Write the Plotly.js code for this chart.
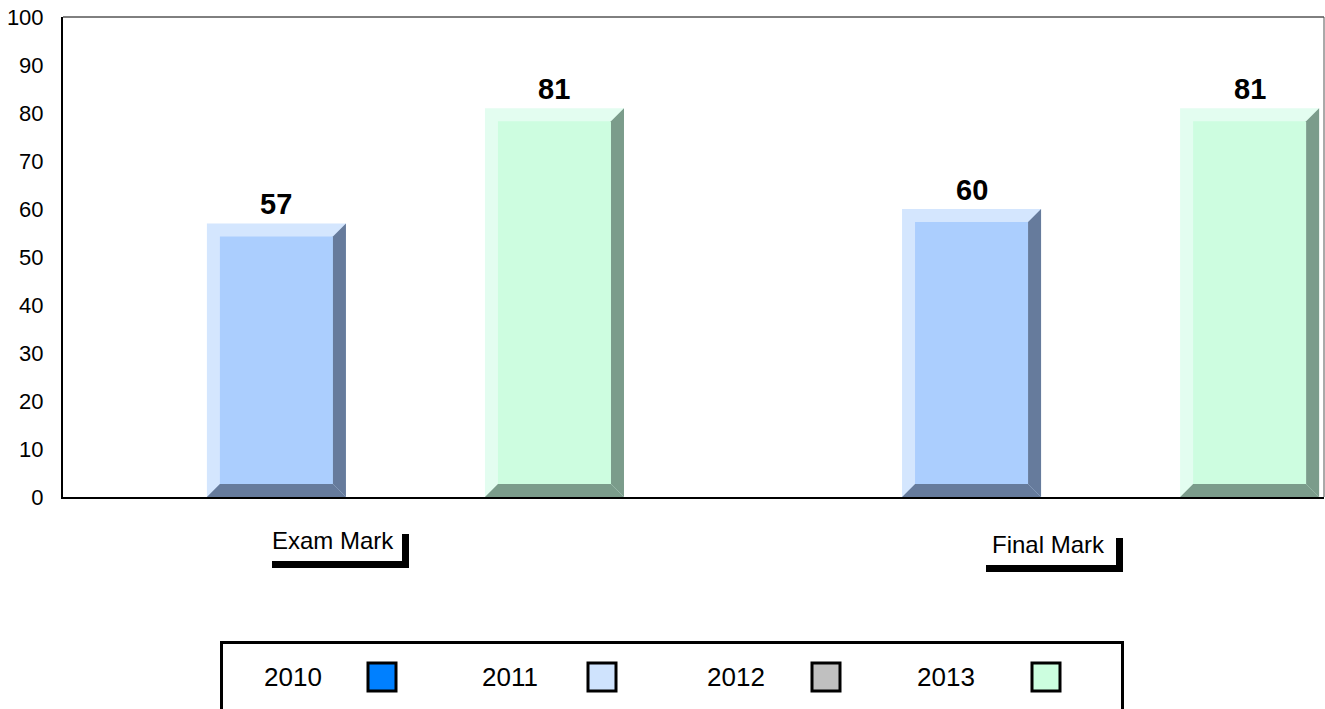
<!DOCTYPE html>
<html>
<head>
<meta charset="utf-8">
<script src="https://cdn.plot.ly/plotly-3.0.1.min.js"></script>
<style>html,body{margin:0;padding:0;background:#fff;}#chart{width:1325px;height:709px;}</style>
</head>
<body>
<div id="chart"></div>
<script>
// ---- data ----
const categories = ['Exam Mark', 'Final Mark'];
const seriesNames = ['2010', '2011', '2012', '2013'];
const values2010 = [null, null];
const values2011 = [57, 60];
const values2012 = [null, null];
const values2013 = [81, 81];
const yTickVals = [0, 10, 20, 30, 40, 50, 60, 70, 80, 90, 100];

// ---- styles ----
const seriesValues = [values2010, values2011, values2012, values2013];
const swatchColors = ['#0080ff', '#cfe3fd', '#c0c0c0', '#ccfedf'];
const outerColors  = ['#66b3ff', '#d4e6fe', '#dcdcdc', '#e3fdf0'];
const faceColors   = ['#0080ff', '#abcefe', '#c0c0c0', '#cdfde0'];
const sideColors   = ['#004d99', '#667b9c', '#737373', '#7b9c8b'];
const FONT = 'Liberation Sans, Arial, sans-serif';

const W = 1325, H = 709;
const M = {l: 63, r: 1, t: 17, b: 212};
const plotW = W - M.l - M.r, plotH = H - M.t - M.b;
const xRange = [-0.407, 1.407];
const yRange = [0, 100];
const bargap = 0.2;
const xs = categories.map((c, i) => i);

// helpers: pixel -> paper
const pxX = px => (px - M.l) / plotW;
const pxY = py => (H - M.b - py) / plotH;

const traces = seriesNames.map((name, i) => ({
  type: 'bar',
  name: name,
  x: xs,
  y: seriesValues[i],
  marker: {color: outerColors[i], line: {width: 0}},
  hoverinfo: 'none',
  showlegend: false
}));

const shapes = [];
const annotations = [];

// bevel geometry (in data units, derived from axis scale)
const pxPerX = plotW / (xRange[1] - xRange[0]);
const pxPerY = plotH / (yRange[1] - yRange[0]);
const bev = 13;
const bx = bev / pxPerX, by = bev / pxPerY;
const slot = (1 - bargap) / seriesNames.length;

seriesNames.forEach((name, i) => {
  seriesValues[i].forEach((v, c) => {
    if (v === null || v === undefined) return;
    const center = xs[c] + (i - (seriesNames.length - 1) / 2) * slot;
    const x0 = center - slot / 2, x1 = center + slot / 2;
    // face
    shapes.push({type: 'rect', xref: 'x', yref: 'y', x0: x0 + bx, x1: x1 - bx, y0: by, y1: v - by,
      fillcolor: faceColors[i], line: {width: 0}});
    // right side
    shapes.push({type: 'path', xref: 'x', yref: 'y',
      path: `M ${x1 - bx},${v - by} L ${x1},${v} L ${x1},0 L ${x1 - bx},${by} Z`,
      fillcolor: sideColors[i], line: {width: 0}});
    // bottom side
    shapes.push({type: 'path', xref: 'x', yref: 'y',
      path: `M ${x0},0 L ${x0 + bx},${by} L ${x1 - bx},${by} L ${x1},0 Z`,
      fillcolor: sideColors[i], line: {width: 0}});
    // value label
    annotations.push({xref: 'x', yref: 'y', x: center, y: v, yanchor: 'bottom', xanchor: 'center',
      yshift: 1, showarrow: false, text: '<b>' + v + '</b>',
      font: {family: FONT, size: 29, color: '#000'}});
  });
});

// frame lines (top, right)
shapes.push({type: 'line', xref: 'paper', yref: 'paper', x0: 0, x1: 1, y0: 1, y1: 1, line: {color: '#000', width: 1}});
shapes.push({type: 'line', xref: 'paper', yref: 'paper', x0: 1, x1: 1, y0: 0, y1: 1, line: {color: '#555', width: 1}});

// category labels with drop-shadow boxes
const catBoxes = [
  {left: 265, top: 527, textLeft: 272},
  {left: 979, top: 531, textLeft: 992}
];
const boxW = 137, boxH = 34, shadow = 7;
categories.forEach((cat, c) => {
  const b = catBoxes[c];
  shapes.push({type: 'rect', xref: 'paper', yref: 'paper',
    x0: pxX(b.left + shadow), x1: pxX(b.left + boxW + shadow),
    y0: pxY(b.top + shadow), y1: pxY(b.top + boxH + shadow),
    fillcolor: '#000', line: {width: 0}});
  shapes.push({type: 'rect', xref: 'paper', yref: 'paper',
    x0: pxX(b.left), x1: pxX(b.left + boxW),
    y0: pxY(b.top), y1: pxY(b.top + boxH),
    fillcolor: '#fff', line: {width: 0}});
  annotations.push({xref: 'paper', yref: 'paper', x: pxX(b.textLeft - 2), y: pxY(b.top + 13),
    xanchor: 'left', yanchor: 'middle', showarrow: false, text: cat,
    font: {family: FONT, size: 24, color: '#000'}});
});

// custom legend (text then swatch)
shapes.push({type: 'rect', xref: 'paper', yref: 'paper',
  x0: pxX(221.5), x1: pxX(1122.5), y0: pxY(642.5), y1: pxY(740),
  fillcolor: 'rgba(0,0,0,0)', line: {color: '#000', width: 3}});
const legTextLeft = [264, 482, 707, 917];
const legSwatchLeft = [368, 588, 812, 1032];
seriesNames.forEach((name, i) => {
  annotations.push({xref: 'paper', yref: 'paper', x: pxX(legTextLeft[i] - 2), y: pxY(677),
    xanchor: 'left', yanchor: 'middle', showarrow: false, text: name,
    font: {family: FONT, size: 26, color: '#000'}});
  shapes.push({type: 'rect', xref: 'paper', yref: 'paper',
    x0: pxX(legSwatchLeft[i]), x1: pxX(legSwatchLeft[i] + 28),
    y0: pxY(663), y1: pxY(691),
    fillcolor: swatchColors[i], line: {color: '#000', width: 3}});
});

const layout = {
  width: W, height: H,
  margin: M,
  paper_bgcolor: '#fff', plot_bgcolor: '#fff',
  barmode: 'group', bargap: bargap, bargroupgap: 0,
  showlegend: false,
  xaxis: {type: 'linear', range: xRange, showticklabels: false, ticks: '', showgrid: false,
    zeroline: false, showline: true, linecolor: '#000', linewidth: 2, fixedrange: true},
  yaxis: {range: yRange, tickmode: 'array', tickvals: yTickVals, ticktext: yTickVals.map(String),
    ticks: '', showgrid: false, zeroline: false, showline: true, linecolor: '#000', linewidth: 2,
    ticklabelstandoff: 13, tickfont: {family: FONT, size: 22, color: '#000'}, fixedrange: true},
  shapes: shapes,
  annotations: annotations,
  font: {family: FONT, color: '#000'}
};

Plotly.newPlot('chart', traces, layout, {displayModeBar: false, staticPlot: true});
</script>
</body>
</html>
